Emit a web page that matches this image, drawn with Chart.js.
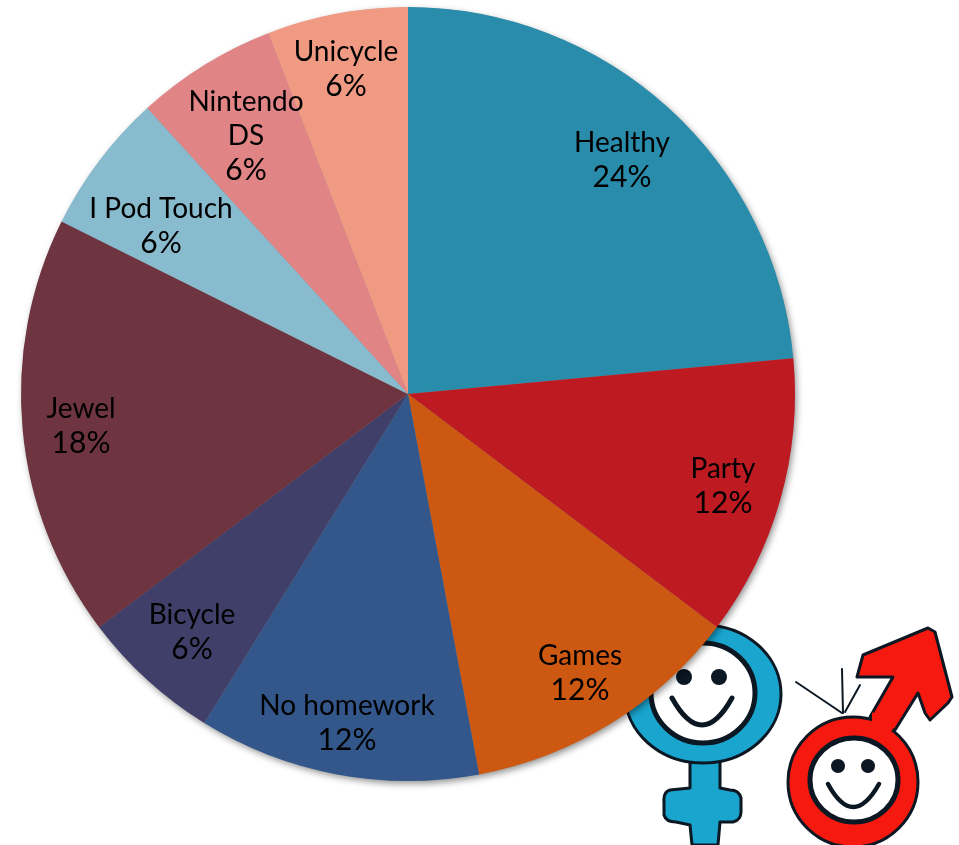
<!DOCTYPE html>
<html><head><meta charset="utf-8">
<script src="https://cdn.jsdelivr.net/npm/chart.js@4"></script>
<style>
html,body{margin:0;padding:0;background:#fff;width:959px;height:845px;overflow:hidden}
#icons{position:absolute;left:0;top:0}
#wrap{position:absolute;left:0;top:0;width:959px;height:845px}
</style></head><body>
<svg id="icons" width="959" height="845" viewBox="0 0 959 845">
  <g stroke="#0b1722" stroke-width="3" stroke-linejoin="round">
    <path fill="#1aa5cf" d="M690 755 L690 788 L670 790 Q663 792 664 802 L664 815 Q666 822 676 822 L690 825 L692 845 L718 845 L720 822 L733 822 Q741 820 741 812 L741 798 Q739 790 730 790 L720 788 L720 755 Z"/>
    <ellipse cx="703" cy="694" rx="78" ry="69" fill="#1aa5cf"/>
    <ellipse cx="703" cy="693" rx="52" ry="50" fill="#fff" stroke-width="5"/>
    <path fill="#f5190f" d="M857 677 L863 655 L928 628 L935 632 L952 697 L948 703 L930 720 L925 713 L918 693 L895 730 L870 717 L893 677 Z"/>
    <circle cx="853" cy="782" r="65" fill="#f5190f"/>
    <ellipse cx="854" cy="780" rx="44" ry="42" fill="#fff" stroke-width="5"/>
  </g>
  <path fill="#f5190f" d="M872 712 L895 726 L888 736 L872 728 Z"/>
  <g fill="#0b1722">
    <circle cx="684" cy="677" r="8"/><circle cx="719" cy="677" r="8"/>
    <circle cx="838" cy="766" r="7"/><circle cx="868" cy="766" r="7"/>
  </g>
  <g fill="none" stroke="#0b1722" stroke-linecap="round">
    <path stroke-width="5" d="M672 698 Q702 752 732 698"/>
    <path stroke-width="4.5" d="M828 784 Q853 830 879 784"/>
    <path stroke-width="2" d="M796 682 L842 713 M842 669 L843 713 M860 685 L845 712"/>
  </g>
</svg>
<div id="wrap"><canvas id="c" width="959" height="845"></canvas></div>
<script>
const categories = ["Healthy","Party","Games","No homework","Bicycle","Jewel","I Pod Touch","Nintendo DS","Unicycle"];
const sliceValues = [4,2,2,2,1,3,1,1,1];
const percentLabels = ["24%","12%","12%","12%","6%","18%","6%","6%","6%"];
const sliceColors = ["#2a8cab","#be1a22","#cd5812","#33578a","#403f69","#6e3440","#89bbcf","#e08486","#f09a84"];
const labelLines = [["Healthy"],["Party"],["Games"],["No homework"],["Bicycle"],["Jewel"],["I Pod Touch"],["Nintendo","DS"],["Unicycle"]];
const labelAnchors = [[622,160],[723,486],[580,673],[347,723],[192,632],[81,426],[161,226],[246,136],[346,69]];

const pieShadow = {
  id:'pieShadow',
  beforeDatasetsDraw(chart){
    const a = chart.getDatasetMeta(0).data[0];
    const ctx = chart.ctx;
    ctx.save();
    ctx.shadowColor='rgba(0,0,0,0.45)';
    ctx.shadowBlur=7;
    ctx.shadowOffsetX=2;
    ctx.shadowOffsetY=3;
    ctx.fillStyle='#888';
    ctx.beginPath();
    ctx.arc(a.x,a.y,a.outerRadius-0.5,0,Math.PI*2);
    ctx.fill();
    ctx.restore();
  }
};
const sliceLabels = {
  id:'sliceLabels',
  afterDatasetsDraw(chart){
    const ctx = chart.ctx;
    ctx.save();
    ctx.fillStyle='#000';
    ctx.textAlign='center';
    ctx.textBaseline='middle';
    const lh=34;
    categories.forEach((_,i)=>{
      const lines=[...labelLines[i],percentLabels[i]];
      const [x,y]=labelAnchors[i];
      lines.forEach((t,k)=>{
        ctx.font = k===lines.length-1 ? '30px Lato' : '28px Lato';
        ctx.fillText(t,x,y+(k-(lines.length-1)/2)*lh);
      });
    });
    ctx.restore();
  }
};
new Chart(document.getElementById('c'),{
  type:'pie',
  data:{labels:categories,datasets:[{data:sliceValues,backgroundColor:sliceColors,borderWidth:0,hoverOffset:0}]},
  options:{
    responsive:false,animation:false,
    layout:{padding:{left:21,top:7,right:164,bottom:64}},
    plugins:{legend:{display:false},tooltip:{enabled:false},title:{display:false}}
  },
  plugins:[pieShadow,sliceLabels]
});
</script>
</body></html>
